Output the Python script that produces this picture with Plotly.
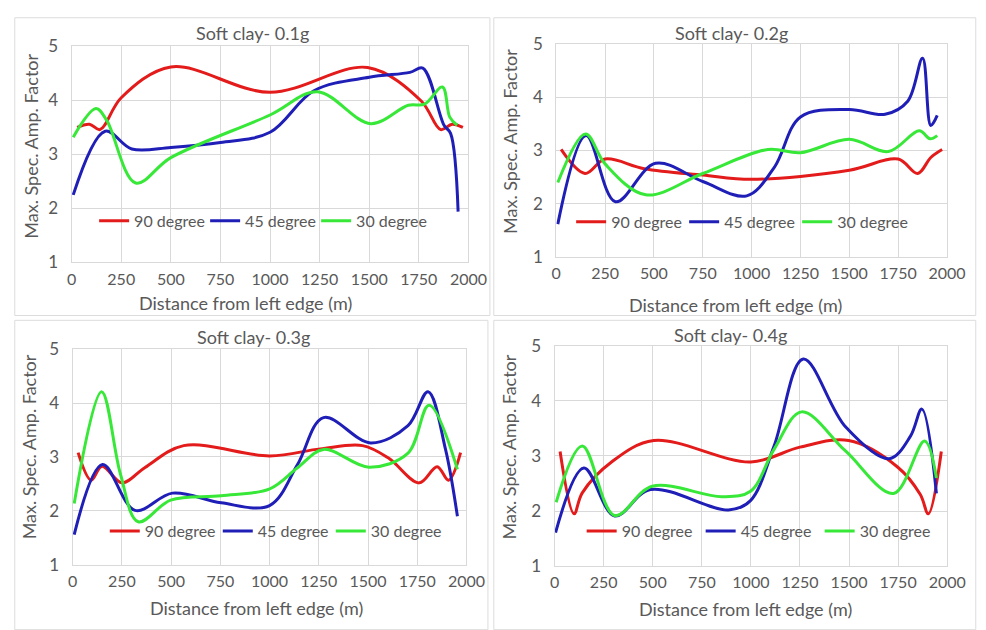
import plotly.graph_objects as go

W, H = 986, 630

# ---------------- data ----------------
titles = ["Soft clay- 0.1g", "Soft clay- 0.2g", "Soft clay- 0.3g", "Soft clay- 0.4g"]
series_names = ["90 degree", "45 degree", "30 degree"]
x_ticks = [0, 250, 500, 750, 1000, 1250, 1500, 1750, 2000]
y_ticks = [1, 2, 3, 4, 5]

# Panel 1 (0.1g)
p1_90_x = [28, 90, 143, 250, 500, 1000, 1492, 1762, 1860, 1918, 1972]
p1_90_y = [3.50, 3.56, 3.46, 4.05, 4.62, 4.15, 4.61, 3.99, 3.46, 3.56, 3.50]
p1_45_x = [8, 169, 303, 500, 750, 1000, 1221, 1500, 1705, 1770, 1877, 1910, 1948]
p1_45_y = [2.25, 3.43, 3.10, 3.13, 3.22, 3.41, 4.18, 4.43, 4.52, 4.60, 3.54, 3.39, 1.94]
p1_30_x = [8, 123, 177, 323, 500, 1000, 1238, 1508, 1697, 1779, 1869, 1906, 1943]
p1_30_y = [3.32, 3.85, 3.63, 2.47, 2.94, 3.73, 4.16, 3.57, 3.91, 3.93, 4.25, 3.69, 3.54]

# Panel 2 (0.2g)
p2_90_x = [25, 147, 250, 450, 750, 1000, 1500, 1750, 1850, 1917, 1975]
p2_90_y = [3.02, 2.57, 2.84, 2.66, 2.54, 2.46, 2.63, 2.84, 2.57, 2.87, 3.02]
p2_45_x = [8, 153, 303, 508, 750, 975, 1117, 1250, 1500, 1683, 1800, 1875, 1917, 1950]
p2_45_y = [1.62, 3.28, 2.04, 2.76, 2.42, 2.15, 2.69, 3.63, 3.77, 3.68, 3.93, 4.73, 3.47, 3.66]
p2_30_x = [8, 150, 250, 458, 750, 1083, 1250, 1500, 1700, 1858, 1913, 1950]
p2_30_y = [2.40, 3.31, 2.75, 2.17, 2.57, 3.02, 2.96, 3.21, 2.98, 3.37, 3.22, 3.28]

# Panel 3 (0.3g)
p3_90_x = [28, 94, 149, 251, 366, 564, 1001, 1257, 1472, 1604, 1760, 1851, 1909, 1970]
p3_90_y = [3.08, 2.57, 2.83, 2.52, 2.80, 3.21, 3.02, 3.15, 3.21, 2.98, 2.52, 2.82, 2.57, 3.08]
p3_45_x = [8, 152, 317, 507, 754, 1000, 1142, 1274, 1513, 1703, 1805, 1893, 1954]
p3_45_y = [1.56, 2.86, 2.01, 2.33, 2.15, 2.10, 2.86, 3.73, 3.26, 3.58, 4.21, 3.15, 1.90]
p3_30_x = [8, 147, 243, 333, 498, 754, 1001, 1142, 1274, 1505, 1703, 1810, 1954]
p3_30_y = [2.14, 4.21, 2.68, 1.80, 2.20, 2.28, 2.41, 2.80, 3.14, 2.81, 3.07, 3.96, 2.77]

# Panel 4 (0.4g)
p4_90_x = [28, 99, 141, 290, 505, 1000, 1250, 1498, 1747, 1863, 1904, 1970]
p4_90_y = [3.08, 1.95, 2.33, 2.89, 3.28, 2.89, 3.16, 3.28, 2.80, 2.30, 1.95, 3.08]
p4_45_x = [5, 149, 306, 488, 886, 998, 1118, 1267, 1482, 1705, 1813, 1871, 1945]
p4_45_y = [1.61, 2.78, 1.91, 2.39, 2.02, 2.19, 3.18, 4.76, 3.53, 2.95, 3.36, 3.85, 2.32]
p4_30_x = [8, 141, 306, 497, 853, 998, 1118, 1258, 1482, 1727, 1885, 1945]
p4_30_y = [2.16, 3.18, 1.92, 2.45, 2.26, 2.36, 3.12, 3.80, 3.09, 2.32, 3.27, 2.60]

panels = [
    [(p1_90_x, p1_90_y), (p1_45_x, p1_45_y), (p1_30_x, p1_30_y)],
    [(p2_90_x, p2_90_y), (p2_45_x, p2_45_y), (p2_30_x, p2_30_y)],
    [(p3_90_x, p3_90_y), (p3_45_x, p3_45_y), (p3_30_x, p3_30_y)],
    [(p4_90_x, p4_90_y), (p4_45_x, p4_45_y), (p4_30_x, p4_30_y)],
]

# ---------------- style / layout ----------------
colors = ["#e31b1b", "#1f1fb8", "#38e838"]
FONT = "Lato"
TXT = "#595959"
GRID = "#d9d9d9"

def fx(p):
    return p / W

def fy(p):
    return 1 - p / H

# plot areas in pixels: (x0, x1, ytop, ybottom)
areas = [(68.3, 475, 36.7, 260), (565, 965.5, 34, 254.7),
         (69.3, 473, 349.7, 573), (563.3, 965.7, 346.3, 574.3)]
boxes = [(10, 497, 7, 315), (501, 995, 7, 315), (10, 495, 320, 640), (501, 995, 320, 640)]
title_pos = [(254, 23), (745, 23), (255, 337), (744, 335)]
xtitle_pos = [(246, 302), (749, 304), (258, 618), (759, 619)]
ytitle_pos = [(27, 140), (517, 135), (25, 451), (517, 451)]
legend_pos = [(262, 217), (754, 218), (276, 538), (774, 538)]
legend_entry = [66, 68, 68, 74]

fig = go.Figure()
layout = dict(width=W, height=H, margin=dict(l=0, r=0, t=0, b=0),
              paper_bgcolor="white", plot_bgcolor="white",
              font=dict(family=FONT, color=TXT), shapes=[], annotations=[])

for i, pan in enumerate(panels):
    k = "" if i == 0 else str(i + 1)
    lg = "legend" + k
    for j, (xs, ys) in enumerate(pan):
        fig.add_trace(go.Scatter(
            x=xs, y=ys, mode="lines", name=series_names[j],
            line=dict(color=colors[j], width=3, shape="spline", smoothing=1.0),
            xaxis="x" + k, yaxis="y" + k, legend=lg, showlegend=True))
    x0, x1, yt, yb = areas[i]
    layout["xaxis" + k] = dict(domain=[fx(x0), fx(x1)], range=[0, 2000],
                               tickvals=x_ticks, showgrid=True, gridcolor=GRID,
                               showline=True, linecolor=GRID, mirror=True, zeroline=False,
                               ticks="", ticklabelstandoff=2,
                               tickfont=dict(size=16, color=TXT, family=FONT),
                               anchor="y" + k, fixedrange=True)
    layout["yaxis" + k] = dict(domain=[fy(yb), fy(yt)], range=[1, 5],
                               tickvals=y_ticks, showgrid=True, gridcolor=GRID,
                               showline=True, linecolor=GRID, mirror=True, zeroline=False,
                               ticks="", ticklabelstandoff=9,
                               tickfont=dict(size=17, color=TXT, family=FONT),
                               anchor="x" + k, fixedrange=True)
    bx0, bx1, by0, by1 = boxes[i]
    layout["shapes"].append(dict(type="rect", xref="paper", yref="paper",
                                 x0=fx(bx0), x1=fx(bx1), y0=fy(by1), y1=fy(by0),
                                 line=dict(color="#dcdcdc", width=1), layer="below"))
    tx, ty = title_pos[i]
    layout["annotations"].append(dict(text=titles[i], x=fx(tx), y=fy(ty), xref="paper", yref="paper",
                                      showarrow=False, xanchor="center", yanchor="middle",
                                      font=dict(size=18, color=TXT, family=FONT)))
    ax, ay = xtitle_pos[i]
    layout["annotations"].append(dict(text="Distance from left edge (m)", x=fx(ax), y=fy(ay),
                                      xref="paper", yref="paper", showarrow=False,
                                      xanchor="center", yanchor="middle",
                                      font=dict(size=18, color=TXT, family=FONT)))
    yx, yy = ytitle_pos[i]
    layout["annotations"].append(dict(text="Max. Spec. Amp. Factor", x=fx(yx), y=fy(yy),
                                      xref="paper", yref="paper", showarrow=False, textangle=-90,
                                      xanchor="center", yanchor="middle",
                                      font=dict(size=18, color=TXT, family=FONT)))
    lx, ly = legend_pos[i]
    layout[lg] = dict(orientation="h", x=fx(lx), y=fy(ly), xanchor="center", yanchor="middle",
                      xref="paper", yref="paper", bgcolor="rgba(0,0,0,0)",
                      font=dict(size=16, color=TXT, family=FONT),
                      itemwidth=30, entrywidth=legend_entry[i], tracegroupgap=0)

fig.update_layout(**layout)
fig.write_html("out.html")
